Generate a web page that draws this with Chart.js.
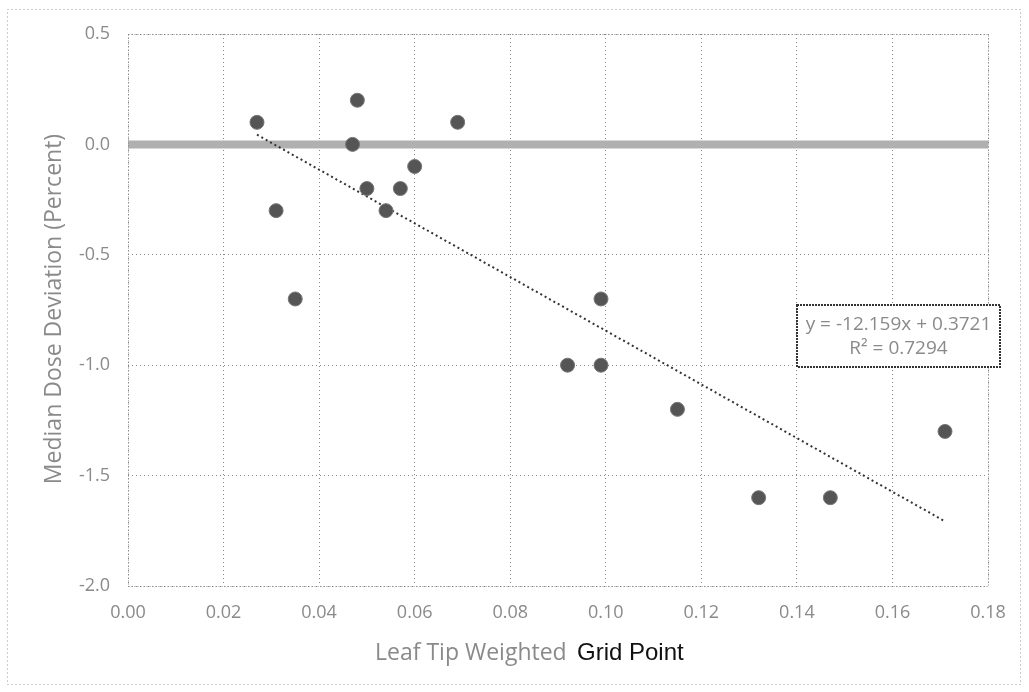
<!DOCTYPE html>
<html>
<head>
<meta charset="utf-8">
<script src="https://cdn.jsdelivr.net/npm/chart.js@4/dist/chart.umd.min.js"></script>
<style>
  html, body { margin: 0; padding: 0; background: #fff; }
  #wrap { width: 1029px; height: 692px; position: relative; }
</style>
</head>
<body>
<div id="wrap"><canvas id="c" width="1029" height="692"></canvas></div>
<script>
// Measured samples: weighted grid point vs. median dose deviation (%)
const gridPoint = [0.027, 0.031, 0.035, 0.048, 0.047, 0.050, 0.054, 0.057, 0.060, 0.069,
                   0.092, 0.099, 0.099, 0.115, 0.132, 0.147, 0.171];
const doseDeviation = [0.1, -0.3, -0.7, 0.2, 0.0, -0.2, -0.3, -0.2, -0.1, 0.1,
                       -1.0, -0.7, -1.0, -1.2, -1.6, -1.6, -1.3];

// Linear fit reported on the chart
const fitSlope = -12.159;
const fitIntercept = 0.3721;
const fitR2 = 0.7294;
const fitRange = [0.027, 0.171];

const xTicks = [0, 0.02, 0.04, 0.06, 0.08, 0.10, 0.12, 0.14, 0.16, 0.18];
const yTicks = [0.5, 0.0, -0.5, -1.0, -1.5, -2.0];

const points = gridPoint.map((x, i) => ({ x, y: doseDeviation[i] }));
const fitLine = fitRange.map(x => ({ x, y: fitSlope * x + fitIntercept }));

const FONT = "'Open Sans', 'Liberation Sans', sans-serif";
const GREY = '#8a8a8a';

const decorations = {
  id: 'decorations',
  beforeDatasetsDraw(chart) {
    const { ctx, chartArea: a, scales } = chart;
    ctx.save();
    // emphasised zero line
    const y0 = scales.y.getPixelForValue(0);
    ctx.strokeStyle = '#b0b0b0';
    ctx.lineWidth = 8;
    ctx.beginPath();
    ctx.moveTo(a.left, y0);
    ctx.lineTo(a.right, y0);
    ctx.stroke();
    // dotted plot frame
    ctx.strokeStyle = '#888';
    ctx.lineWidth = 1;
    ctx.setLineDash([1, 2]);
    ctx.strokeRect(a.left + 0.5, a.top + 0.5, a.right - a.left, a.bottom - a.top);
    ctx.restore();
  },
  afterDraw(chart) {
    const { ctx, chartArea: a } = chart;
    ctx.save();
    // outer dotted frame
    ctx.strokeStyle = '#999';
    ctx.lineWidth = 1;
    ctx.setLineDash([1, 3]);
    ctx.strokeRect(7.5, 9.5, 1013, 675);
    ctx.setLineDash([]);

    // y axis title
    ctx.fillStyle = GREY;
    ctx.font = `23px ${FONT}`;
    ctx.textAlign = 'center';
    ctx.textBaseline = 'middle';
    ctx.save();
    ctx.translate(54, 309);
    ctx.rotate(-Math.PI / 2);
    ctx.fillText('Median Dose Deviation (Percent)', 0, 0);
    ctx.restore();

    // x axis title in two tones
    ctx.textAlign = 'left';
    ctx.textBaseline = 'alphabetic';
    ctx.font = `23px ${FONT}`;
    ctx.fillStyle = GREY;
    ctx.fillText('Leaf Tip Weighted', 375, 660);
    ctx.font = `24px 'Liberation Sans', ${FONT}`;
    ctx.fillStyle = '#111';
    ctx.fillText('Grid Point', 577, 660);

    // fit equation box
    const bx = 797, by = 305, bw = 203, bh = 62;
    ctx.fillStyle = '#fff';
    ctx.fillRect(bx, by, bw, bh);
    ctx.strokeStyle = '#333';
    ctx.lineWidth = 2;
    ctx.setLineDash([2, 1]);
    ctx.strokeRect(bx, by, bw, bh);
    ctx.setLineDash([]);
    ctx.fillStyle = GREY;
    ctx.textAlign = 'center';
    ctx.textBaseline = 'middle';
    ctx.font = `19px ${FONT}`;
    const sign = fitIntercept >= 0 ? '+' : '-';
    ctx.fillText(`y = ${fitSlope.toFixed(3)}x ${sign} ${Math.abs(fitIntercept).toFixed(4)}`, bx + bw / 2, by + 20);
    ctx.fillText(`R\u00B2 = ${fitR2.toFixed(4)}`, bx + bw / 2, by + 44);
    ctx.restore();
  }
};

new Chart(document.getElementById('c'), {
  type: 'scatter',
  data: {
    datasets: [
      {
        label: 'Samples',
        data: points,
        backgroundColor: '#555',
        borderColor: '#777',
        borderWidth: 1,
        pointRadius: 7,
        pointHoverRadius: 7,
        order: 1
      },
      {
        type: 'line',
        label: 'Linear fit',
        data: fitLine,
        borderColor: '#333',
        borderWidth: 2,
        borderDash: [2, 3],
        pointRadius: 0,
        fill: false,
        order: 2
      }
    ]
  },
  options: {
    responsive: false,
    animation: false,
    layout: { padding: { top: 34, right: 41, left: 0, bottom: 0 } },
    plugins: { legend: { display: false }, tooltip: { enabled: false } },
    scales: {
      x: {
        type: 'linear',
        min: 0, max: 0.18,
        afterBuildTicks(s) { s.ticks = xTicks.map(v => ({ value: v })); },
        afterFit(s) { s.height = 106; },
        grid: { color: '#888', lineWidth: 1, drawTicks: false },
        border: { display: false, dash: [1, 3] },
        ticks: {
          padding: 16,
          color: GREY,
          font: { family: FONT, size: 18 },
          callback: v => v.toFixed(2)
        }
      },
      y: {
        type: 'linear',
        min: -2.0, max: 0.5,
        afterBuildTicks(s) { s.ticks = yTicks.map(v => ({ value: v })); },
        afterFit(s) { s.width = 128; },
        grid: { color: '#888', lineWidth: 1, drawTicks: false },
        border: { display: false, dash: [1, 3] },
        ticks: {
          padding: 18,
          color: GREY,
          font: { family: FONT, size: 18 },
          callback: v => v.toFixed(1)
        }
      }
    }
  },
  plugins: [decorations]
});
</script>
</body>
</html>
